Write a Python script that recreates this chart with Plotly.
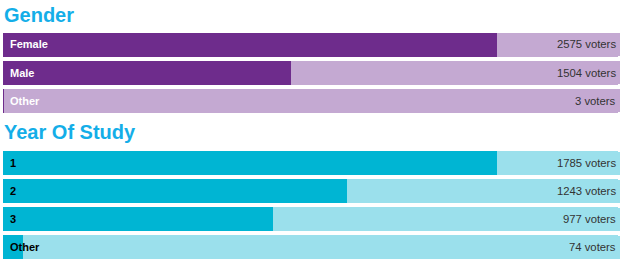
import plotly.graph_objects as go

gender_labels = ["Female", "Male", "Other"]
gender_votes = [2575, 1504, 3]
year_labels = ["1", "2", "3", "Other"]
year_votes = [1785, 1243, 977, 74]

W, H = 625, 269
FONT = "Liberation Sans, Arial, Helvetica, sans-serif"

fig = go.Figure()

def add_group(labels, votes, xa, ya, dark, light, label_color):
    xmax = max(votes) * 1.25
    n = len(labels)
    fig.add_trace(go.Bar(
        y=labels, x=[xmax] * n, orientation="h", marker=dict(color=light, line=dict(width=0), cornerradius=2),
        width=0.875, xaxis=xa, yaxis=ya, hoverinfo="skip", showlegend=False))
    fig.add_trace(go.Bar(
        y=labels, x=votes, orientation="h", marker=dict(color=dark, line=dict(width=0)),
        width=0.875, xaxis=xa, yaxis=ya, showlegend=False))
    ann = []
    for i, (lab, v) in enumerate(zip(labels, votes)):
        ann.append(dict(x=0, y=i, xref=xa, yref=ya, text="<b>%s</b>" % lab, showarrow=False,
                        xanchor="left", xshift=5, yshift=0,
                        font=dict(family=FONT, size=11, color=label_color)))
        ann.append(dict(x=xmax, y=i, xref=xa, yref=ya, text="%d voters" % v, showarrow=False,
                        xanchor="right", xshift=-2,
                        font=dict(family=FONT, size=11.3, color="#333333")))
    return xmax, n, ann

gx, gn, gann = add_group(gender_labels, gender_votes, "x", "y", "#6e2c8c", "#c4a9d2", "#ffffff")
yx, yn, yann = add_group(year_labels, year_votes, "x2", "y2", "#00b5d3", "#9be0ec", "#000000")

def py(px):
    return 1 - px / H

xdom = [3 / W, 620.3 / W]
titles = [
    dict(x=2 / W, y=py(14.6), xref="paper", yref="paper", text="<b>Gender</b>", showarrow=False,
         xanchor="left", yanchor="middle", font=dict(family=FONT, size=20, color="#14aee8")),
    dict(x=2 / W, y=py(132.2), xref="paper", yref="paper", text="<b>Year Of Study</b>", showarrow=False,
         xanchor="left", yanchor="middle", font=dict(family=FONT, size=20, color="#14aee8")),
]

fig.update_layout(
    width=W, height=H, margin=dict(l=0, r=0, t=0, b=0),
    paper_bgcolor="white", plot_bgcolor="white", barmode="overlay", bargap=0,
    xaxis=dict(domain=xdom, range=[0, gx], visible=False, fixedrange=True),
    yaxis=dict(domain=[py(114.5), py(30.5)], type="category", range=[gn - 0.5, -0.5],
               visible=False, fixedrange=True),
    xaxis2=dict(domain=xdom, range=[0, yx], visible=False, fixedrange=True, anchor="y2"),
    yaxis2=dict(domain=[py(261.4), py(149.4)], type="category", range=[yn - 0.5, -0.5],
                visible=False, fixedrange=True, anchor="x2"),
    annotations=titles + gann + yann,
)

fig.write_html("out.html", config={"displayModeBar": False})
